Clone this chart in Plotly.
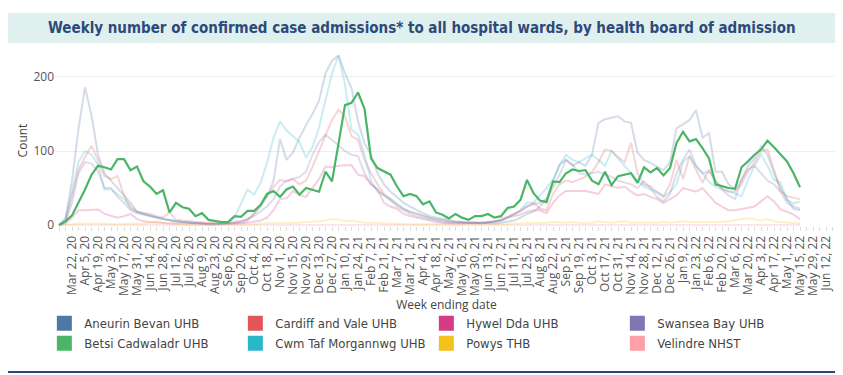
import pandas as pd
import plotly.graph_objects as go

# ---------------- data ----------------
week_start = "2020-03-08"
n_weeks = 115
weeks = pd.date_range(week_start, periods=n_weeks, freq="7D")

tick_dates = pd.date_range("2020-03-22", "2022-06-12", freq="14D")
tick_labels = [d.strftime("%b %-d, %y") for d in tick_dates]

aneurin_bevan = [0, 8, 60, 130, 186, 148, 95, 70, 60, 50,
                 40, 30, 18, 15, 12, 10, 8, 6, 5, 4,
                 3, 2, 2, 1, 1, 1, 1, 2, 3, 6,
                 15, 25, 38, 60, 116, 88, 98, 118, 135, 150,
                 168, 205, 222, 229, 205, 185, 140, 110, 95, 70,
                 55, 45, 38, 30, 25, 20, 16, 12, 10, 8,
                 6, 5, 4, 3, 3, 3, 2, 2, 3, 4,
                 6, 10, 15, 18, 25, 35, 60, 82, 88, 80,
                 85, 80, 95, 138, 143, 145, 147, 140, 138, 98,
                 88, 84, 79, 74, 85, 131, 136, 142, 155, 118,
                 124, 72, 72, 55, 48, 60, 80, 90, 106, 95,
                 70, 50, 35, 22, 20]
betsi_cadwaladr = [0, 5, 13, 30, 48, 68, 80, 78, 75, 89,
                   89, 74, 79, 59, 52, 42, 47, 17, 30, 24,
                   22, 12, 16, 7, 5, 4, 4, 12, 11, 19,
                   19, 27, 42, 46, 38, 48, 52, 41, 50, 48,
                   45, 72, 59, 110, 162, 165, 179, 157, 90, 77,
                   73, 68, 52, 39, 42, 39, 28, 32, 17, 14,
                   9, 15, 10, 7, 12, 12, 15, 10, 12, 23,
                   25, 34, 61, 43, 33, 31, 59, 58, 70, 75,
                   73, 74, 60, 55, 72, 54, 66, 68, 70, 57,
                   78, 71, 77, 67, 77, 111, 126, 113, 116, 104,
                   90, 55, 52, 50, 49, 78, 86, 95, 102, 114,
                   105, 95, 86, 70, 51]
cardiff_vale = [0, 5, 40, 75, 92, 107, 88, 66, 62, 66,
                40, 22, 18, 17, 15, 12, 10, 17, 7, 6,
                5, 4, 3, 2, 2, 2, 3, 3, 5, 8,
                15, 28, 39, 52, 61, 59, 62, 55, 60, 79,
                100, 120, 142, 156, 147, 120, 115, 88, 70, 55,
                42, 35, 28, 22, 18, 15, 12, 10, 8, 6,
                5, 4, 3, 3, 3, 2, 4, 5, 8, 12,
                15, 18, 25, 30, 22, 20, 42, 55, 60, 58,
                62, 65, 72, 85, 102, 100, 92, 85, 111, 70,
                55, 52, 45, 39, 55, 88, 62, 93, 75, 57,
                75, 60, 50, 45, 45, 55, 72, 85, 100, 102,
                75, 46, 39, 37, 35]
cwm_taf = [0, 10, 45, 85, 100, 95, 82, 48, 48, 42,
           35, 25, 18, 15, 12, 10, 8, 6, 5, 4,
           3, 2, 2, 1, 1, 2, 3, 10, 30, 48,
           41, 57, 84, 118, 140, 128, 120, 112, 91, 105,
           132, 170, 205, 229, 190, 129, 122, 95, 60, 45,
           40, 35, 28, 22, 18, 15, 12, 10, 8, 6,
           5, 4, 3, 3, 2, 3, 4, 5, 6, 10,
           14, 20, 30, 30, 40, 50, 62, 80, 95, 88,
           85, 90, 95, 88, 80, 100, 90, 80, 70, 60,
           52, 48, 44, 38, 45, 55, 85, 93, 80, 70,
           58, 52, 48, 46, 42, 39, 61, 80, 95, 80,
           61, 57, 34, 29, 32]
hywel_dda = [0, 2, 10, 20, 20, 21, 21, 15, 12, 10,
             12, 15, 8, 5, 4, 3, 3, 2, 2, 2,
             1, 1, 1, 1, 1, 1, 1, 2, 2, 3,
             4, 6, 10, 20, 35, 36, 46, 40, 38, 50,
             62, 79, 78, 80, 80, 81, 68, 66, 55, 48,
             30, 25, 22, 15, 12, 10, 8, 5, 4, 3,
             2, 2, 2, 3, 3, 2, 3, 4, 6, 10,
             12, 14, 18, 20, 20, 16, 30, 40, 46, 46,
             46, 46, 44, 42, 55, 52, 50, 52, 45, 40,
             42, 38, 35, 30, 35, 40, 50, 48, 45, 50,
             40, 30, 25, 20, 20, 22, 24, 25, 32, 39,
             32, 21, 18, 14, 8]
powys = [0, 0, 1, 2, 2, 3, 2, 2, 1, 1,
         1, 1, 1, 2, 3, 5, 3, 2, 1, 1,
         0, 0, 0, 0, 0, 0, 0, 0, 1, 1,
         1, 2, 2, 3, 3, 2, 3, 3, 4, 4,
         5, 6, 8, 7, 5, 6, 4, 3, 3, 2,
         2, 2, 1, 1, 1, 1, 1, 0, 0, 0,
         0, 0, 0, 0, 0, 0, 0, 1, 1, 1,
         2, 2, 3, 3, 2, 3, 4, 3, 3, 4,
         3, 2, 3, 5, 4, 3, 4, 5, 3, 3,
         2, 3, 3, 4, 3, 4, 5, 4, 4, 3,
         3, 3, 4, 5, 7, 8, 9, 7, 6, 8,
         5, 4, 3, 3, 2]
swansea_bay = [0, 5, 30, 70, 85, 83, 72, 50, 50, 38,
               30, 20, 16, 14, 12, 10, 8, 6, 5, 4,
               3, 2, 2, 1, 1, 1, 2, 3, 5, 8,
               12, 18, 25, 35, 52, 60, 62, 65, 72, 95,
               112, 122, 115, 108, 100, 95, 93, 70, 55, 48,
               40, 32, 25, 20, 15, 12, 10, 8, 6, 4,
               3, 3, 2, 2, 2, 3, 3, 4, 6, 10,
               15, 20, 25, 28, 30, 35, 50, 68, 88, 82,
               70, 68, 70, 72, 68, 65, 60, 58, 55, 50,
               59, 50, 38, 32, 42, 70, 88, 102, 80, 70,
               72, 60, 48, 40, 35, 62, 75, 80, 70, 60,
               55, 45, 30, 25, 22]
velindre = [0] * 40 + [1, 0, 1, 1, 0, 1] + [0] * 69

boards = ["Aneurin Bevan UHB", "Betsi Cadwaladr UHB", "Cardiff and Vale UHB",
          "Cwm Taf Morgannwg UHB", "Hywel Dda UHB", "Powys THB",
          "Swansea Bay UHB", "Velindre NHST"]
series = [aneurin_bevan, betsi_cadwaladr, cardiff_vale, cwm_taf,
          hywel_dda, powys, swansea_bay, velindre]
colors = ["#4e79a7", "#4bb567", "#e15759", "#2bb6ca",
          "#d63b83", "#f5c21b", "#8176b2", "#ff9fa8"]
highlight = "Betsi Cadwaladr UHB"
legend_order = ["Aneurin Bevan UHB", "Cardiff and Vale UHB", "Hywel Dda UHB", "Swansea Bay UHB",
                "Betsi Cadwaladr UHB", "Cwm Taf Morgannwg UHB", "Powys THB", "Velindre NHST"]


def fade(hex_color, alpha):
    h = hex_color.lstrip("#")
    r, g, b = int(h[0:2], 16), int(h[2:4], 16), int(h[4:6], 16)
    return f"rgba({r},{g},{b},{alpha})"


fig = go.Figure()

for name, vals, col in zip(boards, series, colors):
    if name == highlight:
        continue
    fig.add_trace(go.Scatter(x=weeks, y=vals, mode="lines", name=name,
                             line=dict(color=fade(col, 0.25), width=2),
                             showlegend=False, hoverinfo="skip"))
for name, vals, col in zip(boards, series, colors):
    if name == highlight:
        fig.add_trace(go.Scatter(x=weeks, y=vals, mode="lines", name=name,
                                 line=dict(color=col, width=2.2),
                                 showlegend=False))

color_of = dict(zip(boards, colors))
for name in legend_order:
    fig.add_trace(go.Scatter(x=[None], y=[None], mode="markers", name=name,
                             marker=dict(symbol="square", size=15, color=color_of[name]),
                             showlegend=True))

# the page body keeps an 8px margin, so the figure is 8px smaller on each axis
fig.update_layout(
    width=835, height=367,
    margin=dict(l=47, r=5, t=47, b=149, autoexpand=False),
    paper_bgcolor="white", plot_bgcolor="white",
    font=dict(family="Open Sans, sans-serif", size=12, color="#444"),
    legend=dict(orientation="h", x=-0.0136, y=-0.482, xanchor="left", yanchor="top",
                entrywidth=146, entrywidthmode="pixels", traceorder="normal",
                bgcolor="rgba(0,0,0,0)",
                font=dict(family="DejaVu Sans Condensed, sans-serif",
                          size=13, color="#444")),
    xaxis=dict(type="date", range=["2020-03-03 16:00", "2022-06-24 22:00"],
               tickvals=list(tick_dates), ticktext=tick_labels, tickangle=-90,
               ticks="outside", ticklen=4, tickcolor="#ddd",
               minor=dict(dtick=7 * 86400000, tick0=week_start, ticks="outside",
                          ticklen=4, tickcolor="#ddd", showgrid=False),
               showgrid=False, zeroline=False, showline=False,
               tickfont=dict(size=12, color="#555"),
               title=dict(text="Week ending date", font=dict(size=12), standoff=0)),
    yaxis=dict(range=[-1.3, 229.7], tickvals=[0, 100, 200], gridcolor="#eee",
               zeroline=False, showline=False, tickfont=dict(size=12, color="#555"),
               title=dict(text="Count", font=dict(size=12), standoff=3)),
    shapes=[
        dict(type="rect", xref="paper", yref="paper", x0=-0.0613, x1=1.0,
             y0=1.0702, y1=1.2456, fillcolor="#dff0ee", line=dict(width=0), layer="below"),
        dict(type="line", xref="paper", yref="paper", x0=-0.060, x1=1.0026,
             y0=-0.854, y1=-0.854, line=dict(color="#2c4a78", width=2)),
    ],
    annotations=[
        dict(text="<b>Weekly number of confirmed case admissions* to all hospital wards, by health board of admission</b>",
             xref="paper", yref="paper", x=0.469, y=1.158, xanchor="center", yanchor="middle",
             showarrow=False,
             font=dict(family="DejaVu Sans Condensed, sans-serif",
                       size=15, color="#2d4a7b")),
    ],
)

fig.write_html("out.html")
